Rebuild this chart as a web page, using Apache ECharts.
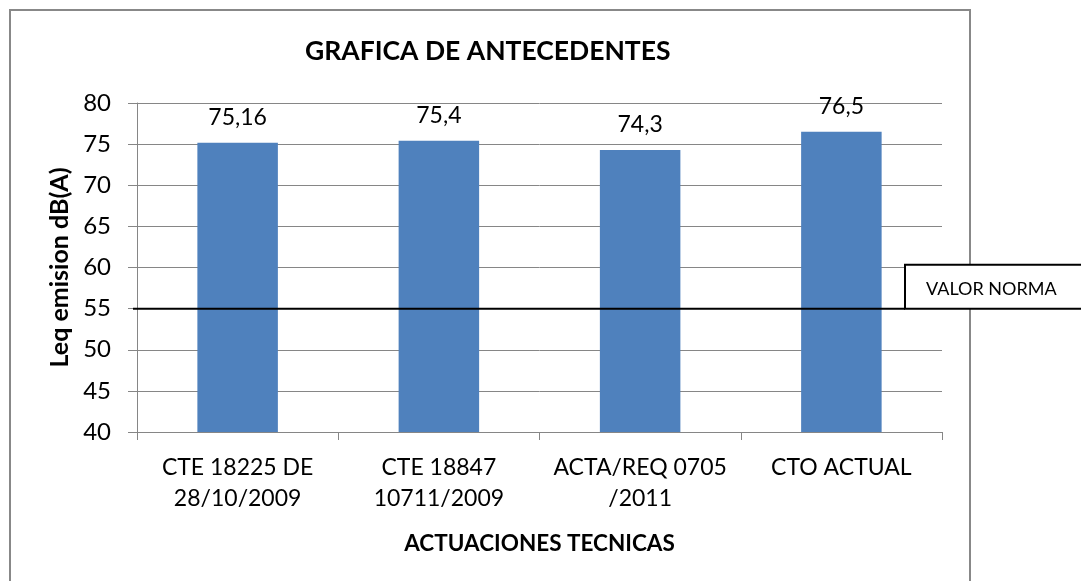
<!DOCTYPE html>
<html>
<head>
<meta charset="utf-8">
<script src="https://cdn.jsdelivr.net/npm/echarts@6/dist/echarts.min.js"></script>
<style>
html,body{margin:0;padding:0;background:#fff;}
#c{width:1081px;height:581px;}
</style>
</head>
<body>
<div id="c"></div>
<script>
const categories = ["CTE 18225 DE\n28/10/2009", "CTE 18847\n10711/2009", "ACTA/REQ 0705\n/2011", "CTO ACTUAL"];
const values = [75.16, 75.4, 74.3, 76.5];
const normValue = 55;
const normLabel = "VALOR NORMA";
const titleText = "GRAFICA DE ANTECEDENTES";
const yName = "Leq emision dB(A)";
const xName = "ACTUACIONES TECNICAS";

const FONT = "Lato";
const chart = echarts.init(document.getElementById('c'), null, {renderer: 'canvas'});
const option = {
  backgroundColor: '#fff',
  animation: false,
  title: {
    text: titleText,
    left: 300,
    top: 33,
    textStyle: {fontFamily: FONT, fontWeight: 'bold', fontSize: 26.5, color: '#000'}
  },
  grid: {left: 137, right: 139, top: 103, bottom: 149},
  xAxis: {
    type: 'category',
    data: categories,
    name: xName,
    nameLocation: 'middle',
    nameGap: 100,
    nameTextStyle: {fontFamily: FONT, fontWeight: 'bold', fontSize: 22.5, color: '#000'},
    axisLine: {lineStyle: {color: '#868686', width: 1}},
    axisTick: {show: true, length: 8, lineStyle: {color: '#868686'}},
    axisLabel: {fontFamily: FONT, fontSize: 23, color: '#000', margin: 20, lineHeight: 31, interval: 0}
  },
  yAxis: {
    type: 'value',
    min: 40, max: 80, interval: 5,
    name: yName,
    nameLocation: 'middle',
    nameRotate: 90,
    nameGap: 64,
    nameTextStyle: {fontFamily: FONT, fontWeight: 'bold', fontSize: 25, color: '#000'},
    axisLine: {show: true, lineStyle: {color: '#868686', width: 1}},
    axisTick: {show: true, length: 9, lineStyle: {color: '#868686'}},
    axisLabel: {fontFamily: FONT, fontSize: 24, color: '#000', margin: 26},
    splitLine: {show: true, lineStyle: {color: '#868686', width: 1}}
  },
  series: [{
    type: 'bar',
    data: values,
    barWidth: '40%',
    itemStyle: {color: '#4F81BD'},
    label: {
      show: true, position: 'top', distance: 14,
      fontFamily: FONT, fontSize: 23, color: '#000',
      formatter: p => String(p.value).replace('.', ',')
    }
  }]
};
chart.setOption(option);

const yLine = chart.convertToPixel({yAxisIndex: 0}, normValue);
chart.setOption({
  graphic: [
    {type: 'rect', shape: {x: 10, y: 10, width: 960, height: 600}, style: {fill: 'none', stroke: '#888', lineWidth: 2}, z: 100},
    {type: 'line', shape: {x1: 133, y1: yLine, x2: 905, y2: yLine}, style: {stroke: '#000', lineWidth: 2}, z: 100},
    {type: 'rect', shape: {x: 905, y: yLine - 44, width: 185, height: 44}, style: {fill: '#fff', stroke: '#000', lineWidth: 2}, z: 100},
    {type: 'text', x: 926, y: yLine - 19, style: {text: normLabel, fontFamily: FONT, fontSize: 18, fill: '#000', textVerticalAlign: 'middle', verticalAlign: 'middle'}, z: 101}
  ]
});
</script>
</body>
</html>
